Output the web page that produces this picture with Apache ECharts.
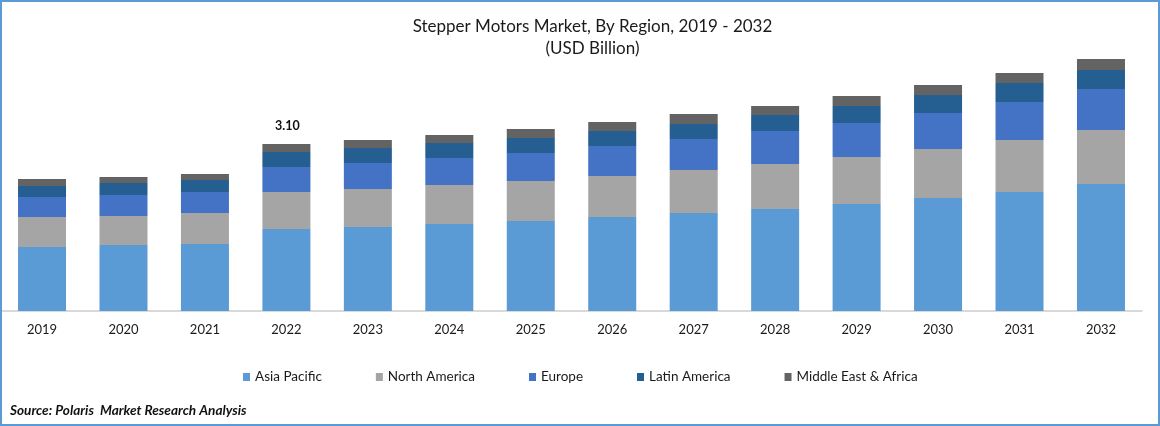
<!DOCTYPE html>
<html>
<head>
<meta charset="utf-8">
<style>html,body{margin:0;padding:0;background:#fff}#c{width:1160px;height:426px}</style>
<script src="https://cdn.jsdelivr.net/npm/echarts@6/dist/echarts.min.js"></script>
</head>
<body>
<div id="c"></div>
<script>
const years = ['2019','2020','2021','2022','2023','2024','2025','2026','2027','2028','2029','2030','2031','2032'];
const asiaPacific = [1.188,1.225,1.244,1.522,1.559,1.615,1.671,1.745,1.819,1.893,1.986,2.098,2.209,2.358];
const northAmerica = [0.557,0.538,0.575,0.687,0.705,0.724,0.743,0.761,0.798,0.835,0.872,0.910,0.965,1.002];
const europe = [0.371,0.390,0.390,0.464,0.483,0.501,0.520,0.557,0.575,0.613,0.631,0.668,0.705,0.761];
const latinAmerica = [0.204,0.223,0.223,0.278,0.278,0.278,0.278,0.278,0.278,0.297,0.316,0.334,0.353,0.353];
const middleEastAfrica = [0.130,0.111,0.111,0.149,0.149,0.149,0.167,0.167,0.186,0.167,0.186,0.186,0.186,0.204];
const labelledYear = '2022';
const labelledTotal = '3.10';

const font = 'Lato';
const textColor = '#1a1a1a';
function bar(name, data, color, extra) {
  return Object.assign({
    name, type: 'bar', stack: 'total', data, barWidth: 48,
    itemStyle: { color }, emphasis: { disabled: true }, silent: true
  }, extra || {});
}
const chart = echarts.init(document.getElementById('c'), null, { renderer: 'canvas' });
chart.setOption({
  animation: false,
  backgroundColor: '#fff',
  title: [
    { text: 'Stepper Motors Market, By Region, 2019 - 2032\n(USD Billion)', left: 592.5, top: 16, padding: 0, textAlign: 'center',
      textStyle: { fontFamily: font, fontSize: 17, fontWeight: 'normal', color: textColor, lineHeight: 22 } },
    { text: 'Source: Polaris  Market Research Analysis', left: 10, top: 404, padding: 0,
      textStyle: { fontFamily: font, fontSize: 13.6, fontWeight: 'bold', fontStyle: 'italic', color: '#111' } }
  ],
  legend: {
    left: 243, top: 370, padding: 0, itemWidth: 7, itemHeight: 8, itemGap: 54, icon: 'rect',
    textStyle: { fontFamily: font, fontSize: 13.5, color: textColor }
  },
  grid: { left: 1.3, right: 18.3, top: 41.65, bottom: 115 },
  xAxis: {
    type: 'category', data: years,
    axisTick: { show: false },
    axisLine: { lineStyle: { color: '#d9d9d9', width: 2 } },
    axisLabel: { fontFamily: font, fontSize: 13, color: textColor, margin: 12 }
  },
  yAxis: { type: 'value', min: 0, max: 5, show: false, splitLine: { show: false } },
  series: [
    bar('Asia Pacific', asiaPacific, '#5B9BD5'),
    bar('North America', northAmerica, '#A5A5A5'),
    bar('Europe', europe, '#4472C4'),
    bar('Latin America', latinAmerica, '#255E91'),
    bar('Middle East & Africa', middleEastAfrica.map((v, i) => years[i] === labelledYear ? {
      value: v,
      label: { show: true, position: 'top', distance: 12, offset: [1, 0], formatter: labelledTotal,
        fontFamily: font, fontSize: 12.5, fontWeight: 'bold', color: '#111' }
    } : v), '#636363')
  ],
  graphic: [{
    type: 'rect', silent: true, z: 100,
    shape: { x: 1, y: 1, width: 1158, height: 424 },
    style: { fill: 'none', stroke: '#5B9BD5', lineWidth: 2 }
  }]
});
</script>
</body>
</html>
